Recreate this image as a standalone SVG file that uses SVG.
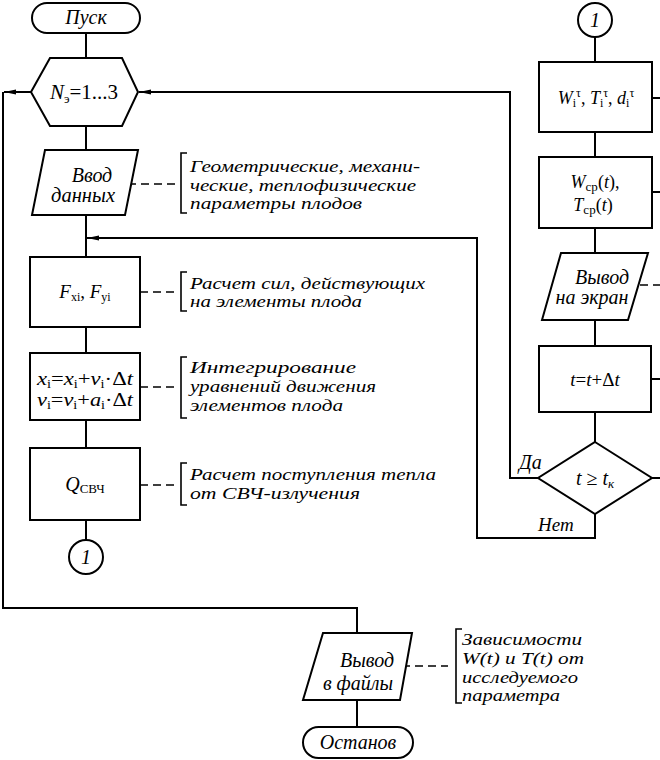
<svg xmlns="http://www.w3.org/2000/svg" width="660" height="760" viewBox="0 0 660 760">
<style>
.s{fill:#fff;stroke:#000;stroke-width:2}
.c{fill:none;stroke:#000;stroke-width:2}
.d{fill:none;stroke:#000;stroke-width:1.6;stroke-dasharray:8,5}
.b{fill:none;stroke:#000;stroke-width:1.6}
text{fill:#000}
.i{font-style:italic}
.m{text-anchor:middle}
.L{font-size:20px}
.F{font-size:19px}
</style>
<defs>
<marker id="ah" viewBox="0 0 12 6" refX="12" refY="3" markerWidth="12" markerHeight="6" markerUnits="userSpaceOnUse" orient="auto">
<path d="M0,0.5 L12,3 L0,5.5 Z" fill="#000"/>
</marker>
</defs>
<rect width="660" height="760" fill="#fff"/>
<g id="connectors">
<path class="c" d="M86,33 V58 M86,126 V150 M86,215 V257 M86,327 V353 M86,420 V448 M86,520 V540"/>
<path class="c" d="M31,92 H4" marker-end="url(#ah)"/>
<path class="c" d="M3,92 V608 H357 V633"/>
<path class="c" d="M357,700 V727"/>
<path class="c" d="M595,37 V62 M595,132 V157 M595,228 V253 M595,320 V346 M595,412 V442"/>
<path class="c" d="M538,478 H510 V92 H139" marker-end="url(#ah)"/>
<path class="c" d="M595,514 V538 H477 V238 H87" marker-end="url(#ah)"/>
<path class="c" d="M652,98 H660 M652,192 H660 M651,379 H660 M652,478 H660"/>
<path class="d" d="M128,184 H176 M140,292 H176 M140,387 H176 M140,485 H176 M402,666 H448 M640,285 H660"/>
</g>
<g font-family="Liberation Serif, Tinos, Times New Roman, Noto Serif, DejaVu Serif, serif" font-size="17">
<g id="start">
<rect class="s" x="32" y="3" width="108" height="30" rx="15"/>
<text class="i m L" x="86" y="24">Пуск</text>
</g>
<g id="loop">
<polygon class="s" points="31,92 50,58 122,58 138,92 122,126 50,126"/>
<text class="m" x="84" y="99" font-size="21"><tspan font-style="italic">N</tspan><tspan font-size="13" dy="4">э</tspan><tspan dy="-4">=1...3</tspan></text>
</g>
<g id="input">
<polygon class="s" points="45,150 138,150 125,215 32,215"/>
<text class="i m L" x="92" y="182">Ввод</text>
<text class="i m L" x="83" y="202" textLength="64" lengthAdjust="spacingAndGlyphs">данных</text>
</g>
<g id="note-input">
<path class="b" d="M187,153 H181 V213 H187"/>
<text class="i" x="190" y="172" textLength="230" lengthAdjust="spacingAndGlyphs">Геометрические, механи-</text>
<text class="i" x="190" y="191" textLength="226" lengthAdjust="spacingAndGlyphs">ческие, теплофизические</text>
<text class="i" x="190" y="209" textLength="172" lengthAdjust="spacingAndGlyphs">параметры плодов</text>
</g>
<g id="forces">
<rect class="s" x="30" y="257" width="110" height="70"/>
<text class="m F" x="85" y="298"><tspan font-style="italic">F</tspan><tspan font-size="12" dy="3">xi</tspan><tspan dy="-3">, </tspan><tspan font-style="italic">F</tspan><tspan font-size="12" dy="3">yi</tspan></text>
</g>
<g id="note-forces">
<path class="b" d="M187,272 H181 V311 H187"/>
<text class="i" x="190" y="289" textLength="235" lengthAdjust="spacingAndGlyphs">Расчет сил, действующих</text>
<text class="i" x="190" y="307" textLength="172" lengthAdjust="spacingAndGlyphs">на элементы плода</text>
</g>
<g id="integrate">
<rect class="s" x="30" y="353" width="110" height="67"/>
<text class="m F" x="85" y="385" textLength="96" lengthAdjust="spacingAndGlyphs"><tspan font-style="italic">x</tspan><tspan font-size="12" dy="3">i</tspan><tspan dy="-3">=</tspan><tspan font-style="italic">x</tspan><tspan font-size="12" dy="3">i</tspan><tspan dy="-3">+</tspan><tspan font-style="italic">v</tspan><tspan font-size="12" dy="3">i</tspan><tspan dy="-3">·Δ</tspan><tspan font-style="italic">t</tspan></text>
<text class="m F" x="85" y="406" textLength="96" lengthAdjust="spacingAndGlyphs"><tspan font-style="italic">v</tspan><tspan font-size="12" dy="3">i</tspan><tspan dy="-3">=</tspan><tspan font-style="italic">v</tspan><tspan font-size="12" dy="3">i</tspan><tspan dy="-3">+</tspan><tspan font-style="italic">a</tspan><tspan font-size="12" dy="3">i</tspan><tspan dy="-3">·Δ</tspan><tspan font-style="italic">t</tspan></text>
</g>
<g id="note-integrate">
<path class="b" d="M187,357 H181 V418 H187"/>
<text class="i" x="190" y="373" textLength="166" lengthAdjust="spacingAndGlyphs">Интегрирование</text>
<text class="i" x="190" y="392" textLength="186" lengthAdjust="spacingAndGlyphs">уравнений движения</text>
<text class="i" x="190" y="411" textLength="153" lengthAdjust="spacingAndGlyphs">элементов плода</text>
</g>
<g id="heat">
<rect class="s" x="30" y="448" width="110" height="72"/>
<text class="m" x="85" y="491"><tspan font-style="italic" font-size="20">Q</tspan><tspan font-size="13" dy="2">СВЧ</tspan></text>
</g>
<g id="note-heat">
<path class="b" d="M187,463 H181 V505 H187"/>
<text class="i" x="190" y="480" textLength="246" lengthAdjust="spacingAndGlyphs">Расчет поступления тепла</text>
<text class="i" x="190" y="499" textLength="170" lengthAdjust="spacingAndGlyphs">от СВЧ-излучения</text>
</g>
<g id="conn-out">
<circle class="s" cx="86" cy="557" r="17"/>
<text class="i m L" x="86" y="564">1</text>
</g>
<g id="conn-in">
<circle class="s" cx="595" cy="20" r="17"/>
<text class="i m L" x="595" y="27">1</text>
</g>
<g id="params">
<rect class="s" x="539" y="62" width="113" height="70"/>
<text class="m" x="596" y="104" font-size="18"><tspan font-style="italic">W</tspan><tspan font-size="12" dy="3">i</tspan><tspan font-size="12" dy="-10">τ</tspan><tspan dy="7">, </tspan><tspan font-style="italic">T</tspan><tspan font-size="12" dy="3">i</tspan><tspan font-size="12" dy="-10">τ</tspan><tspan dy="7">, </tspan><tspan font-style="italic">d</tspan><tspan font-size="12" dy="3">i</tspan><tspan font-size="12" dy="-10">τ</tspan></text>
</g>
<g id="averages">
<rect class="s" x="539" y="157" width="113" height="71"/>
<text class="m" x="595" y="188" font-size="18"><tspan font-style="italic">W</tspan><tspan font-size="13" dy="3">ср</tspan><tspan dy="-3">(</tspan><tspan font-style="italic">t</tspan><tspan>),</tspan></text>
<text class="m" x="593" y="211" font-size="18"><tspan font-style="italic">T</tspan><tspan font-size="13" dy="3">ср</tspan><tspan dy="-3">(</tspan><tspan font-style="italic">t</tspan><tspan>)</tspan></text>
</g>
<g id="screen">
<polygon class="s" points="561,253 648,253 628,320 542,320"/>
<text class="i m L" x="602" y="284">Вывод</text>
<text class="i m L" x="592" y="304">на экран</text>
</g>
<g id="step">
<rect class="s" x="539" y="346" width="112" height="66"/>
<text class="m F" x="595" y="386"><tspan font-style="italic">t</tspan>=<tspan font-style="italic">t</tspan>+Δ<tspan font-style="italic">t</tspan></text>
</g>
<g id="check">
<polygon class="s" points="595,442 652,478 595,514 538,478"/>
<text class="m L" x="595" y="485"><tspan font-style="italic">t</tspan> ≥ <tspan font-style="italic">t</tspan><tspan font-size="13" font-style="italic" dy="3">к</tspan></text>
<text class="i L" x="519" y="469">Да</text>
<text class="i F" x="538" y="531">Нет</text>
</g>
<g id="file">
<polygon class="s" points="323,633 412,633 400,700 303,700"/>
<text class="i m L" x="367" y="667">Вывод</text>
<text class="i m L" x="358" y="690">в файлы</text>
</g>
<g id="note-file">
<path class="b" d="M462,629 H456 V703 H462"/>
<text class="i" x="462" y="645" textLength="120" lengthAdjust="spacingAndGlyphs">Зависимости</text>
<text class="i" x="462" y="664" textLength="122" lengthAdjust="spacingAndGlyphs">W(t) и T(t) от</text>
<text class="i" x="462" y="683" textLength="116" lengthAdjust="spacingAndGlyphs">исследуемого</text>
<text class="i" x="462" y="701" textLength="98" lengthAdjust="spacingAndGlyphs">параметра</text>
</g>
<g id="stop">
<rect class="s" x="303" y="727" width="110" height="31" rx="15.5"/>
<text class="i m L" x="358" y="749">Останов</text>
</g>
</g>
</svg>
